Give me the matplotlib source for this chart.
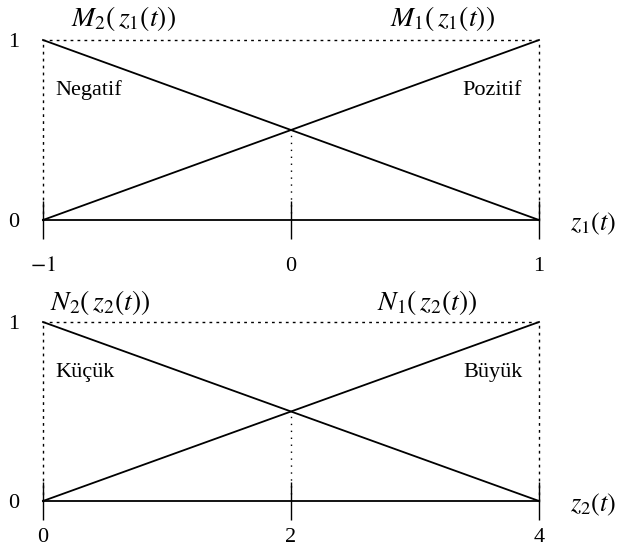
import matplotlib.pyplot as plt

plt.rcParams['font.family'] = 'Liberation Serif'
plt.rcParams['mathtext.fontset'] = 'stix'

# membership functions, defined by their corner points
z1 = [-1, 1]
M1 = [0, 1]
M2 = [1, 0]
z1_ticks = [-1, 0, 1]

z2 = [0, 4]
N1 = [0, 1]
N2 = [1, 0]
z2_ticks = [0, 2, 4]

fig = plt.figure(figsize=(6.22, 5.53), dpi=100)
ax1 = fig.add_axes([43/622, 1 - 220/553, 496/622, 180/553])
ax2 = fig.add_axes([43/622, 1 - 501/553, 496/622, 179/553])

dot = (0, (1, 4))


def draw_panel(ax, z, up, down, ticks, names, name_x, words, xname, pad, name_y):
    mid = (z[0] + z[1]) / 2
    ax.plot(z, up, color='black', lw=1.3, clip_on=False)
    ax.plot(z, down, color='black', lw=1.3, clip_on=False)
    ax.plot([mid, mid], [0, 0.5], color='black', lw=1.0, ls=dot)
    ax.set_xlim(z)
    ax.set_ylim(0, 1)
    for s in ['top', 'left', 'right']:
        ax.spines[s].set_linestyle(dot)
        ax.spines[s].set_linewidth(1.0)
    ax.spines['bottom'].set_linewidth(1.3)
    ax.set_xticks(ticks)
    ax.set_xticklabels(['$-1$' if t < 0 else str(t) for t in ticks])
    ax.tick_params(axis='x', direction='inout', length=27, width=1.0, pad=pad, labelsize=16)
    ax.set_yticks([0, 1])
    ax.tick_params(axis='y', length=0, pad=17, labelsize=16)
    span = z[1] - z[0]
    ax.text(z[0] + name_x[0] * span, name_y, names[0], fontsize=20, ha='center', va='center', clip_on=False)
    ax.text(z[0] + name_x[1] * span, name_y, names[1], fontsize=20, ha='center', va='center', clip_on=False)
    ax.text(z[0] + 0.024 * span, 0.72, words[0], fontsize=16, ha='left', va='center')
    ax.text(z[1] - 0.034 * span, 0.72, words[1], fontsize=16, ha='right', va='center')
    ax.text(z[1] + 0.063 * span, -0.02, xname, fontsize=19, ha='left', va='center', clip_on=False)


draw_panel(ax1, z1, M1, M2, z1_ticks,
           [r'$M_2(\,z_1(t))$', r'$M_1(\,z_1(t))$'], [0.163, 0.805],
           ['Negatif', 'Pozitif'], r'$z_1(t)$', 13, 1.12)
draw_panel(ax2, z2, N1, N2, z2_ticks,
           [r'$N_2(\,z_2(t))$', r'$N_1(\,z_2(t))$'], [0.115, 0.775],
           ['Küçük', 'Büyük'], r'$z_2(t)$', 6, 1.11)

fig.savefig('out.png', dpi=100)
